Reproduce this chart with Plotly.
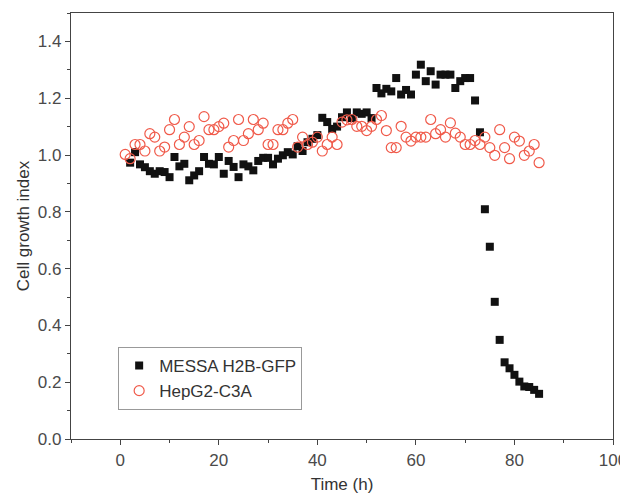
import plotly.graph_objects as go

# MESSA H2B-GFP, one reading per hour (h = 2..85)
messa_time = list(range(2, 86))
messa_index = [
    0.973, 1.010, 0.967, 0.957, 0.943, 0.934, 0.943, 0.940, 0.922, 0.993,
    0.960, 0.969, 0.911, 0.928, 0.943, 0.993, 0.969, 0.967, 0.993, 0.934,
    0.979, 0.958, 0.922, 0.967, 0.960, 0.946, 0.979, 0.990, 0.990, 0.967,
    0.987, 0.999, 1.010, 1.002, 1.031, 1.014, 1.045, 1.057, 1.070, 1.131,
    1.116, 1.092, 1.100, 1.133, 1.150, 1.130, 1.150, 1.145, 1.150, 1.130,
    1.236, 1.217, 1.233, 1.224, 1.271, 1.213, 1.229, 1.213, 1.283, 1.318,
    1.260, 1.295, 1.248, 1.283, 1.283, 1.283, 1.236, 1.260, 1.271, 1.271,
    1.192, 1.080, 0.809, 0.677, 0.483, 0.349, 0.270, 0.249, 0.226, 0.202,
    0.185, 0.183, 0.173, 0.159,
]

# HepG2-C3A (h = 1..85)
hepg2_time = list(range(1, 86))
hepg2_index = [
    1.002, 0.987, 1.037, 1.037, 1.014, 1.075, 1.063, 1.014, 1.028, 1.089,
    1.125, 1.037, 1.063, 1.100, 1.037, 1.051, 1.135, 1.089, 1.089, 1.100,
    1.112, 1.028, 1.051, 1.125, 1.051, 1.075, 1.125, 1.089, 1.112, 1.037,
    1.037, 1.089, 1.089, 1.112, 1.125, 1.028, 1.063, 1.037, 1.045, 1.063,
    1.014, 1.037, 1.063, 1.037, 1.116, 1.124, 1.125, 1.101, 1.101, 1.086,
    1.101, 1.125, 1.139, 1.086, 1.026, 1.026, 1.101, 1.063, 1.049, 1.063,
    1.063, 1.063, 1.125, 1.075, 1.089, 1.063, 1.113, 1.077, 1.063, 1.037,
    1.037, 1.051, 1.037, 1.063, 1.026, 0.999, 1.089, 1.026, 0.987, 1.063,
    1.049, 0.999, 1.014, 1.037, 0.973,
]

x_ticks = [0, 20, 40, 60, 80, 100]
y_ticks = [0.0, 0.2, 0.4, 0.6, 0.8, 1.0, 1.2, 1.4]

data = [
    go.Scatter(
        x=messa_time, y=messa_index, mode='markers', name='MESSA H2B-GFP',
        marker=dict(symbol='square', size=8, color='#111111'),
    ),
    go.Scatter(
        x=hepg2_time, y=hepg2_index, mode='markers', name='HepG2-C3A',
        marker=dict(symbol='circle-open', size=10, color='#f05a4a',
                    line=dict(width=1.2)),
    ),
]

axis_style = dict(
    showline=True, linecolor='#444444', linewidth=1.3, mirror=True,
    ticks='outside', ticklen=5, tickcolor='#444444', showgrid=False,
    zeroline=False, automargin=False, ticklabeloverflow='allow',
    tickfont=dict(size=17, color='#4a4a4a'),
)

# the page body has an 8px margin, so the figure is 8px smaller each way
layout = go.Layout(
    width=620, height=486,
    margin=dict(l=63, r=15, t=5, b=55),
    paper_bgcolor='white', plot_bgcolor='white',
    font=dict(family='Liberation Sans, Arial, sans-serif', color='#333333'),
    xaxis=dict(
        range=[-10, 100], tickvals=x_ticks,
        minor=dict(ticks='outside', ticklen=3, dtick=10, tick0=0, tickcolor='#444444'),
        title=dict(text='Time (h)', font=dict(size=17), standoff=10),
        **axis_style,
    ),
    yaxis=dict(
        range=[0, 1.5], tickvals=y_ticks, tickformat='.1f',
        minor=dict(ticks='outside', ticklen=3, dtick=0.1, tick0=0, tickcolor='#444444'),
        title=dict(text='Cell growth index', font=dict(size=17), standoff=3),
        **axis_style,
    ),
    legend=dict(
        x=0.087, y=0.216, xanchor='left', yanchor='top',
        bordercolor='#999999', borderwidth=1, bgcolor='white',
        font=dict(size=17, color='#333333'),
        itemwidth=30, tracegroupgap=0,
    ),
    showlegend=True,
)

fig = go.Figure(data=data, layout=layout)
fig.write_html('out.html')
